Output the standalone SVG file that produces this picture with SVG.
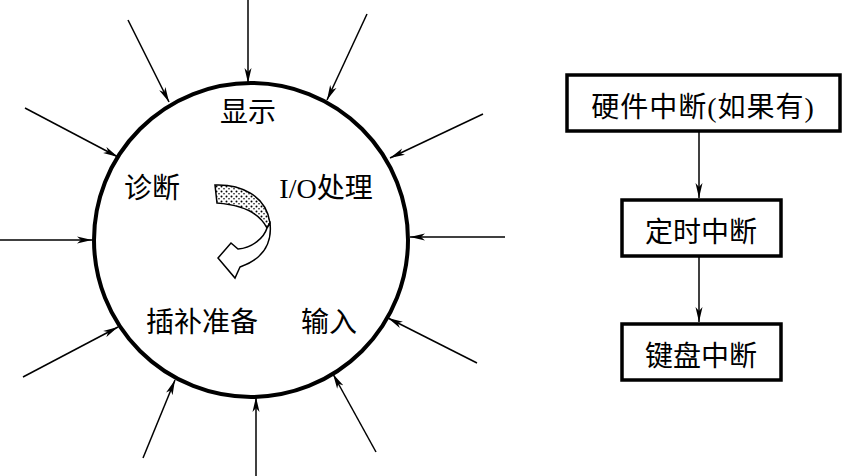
<svg xmlns="http://www.w3.org/2000/svg" width="843" height="476" viewBox="0 0 843 476">
<style>
.ln{stroke:#000;stroke-width:1.5;fill:none;marker-end:url(#ah)}
.bx{fill:#fff;stroke:#000;stroke-width:3.5}
.t{font-family:"Liberation Serif","Noto Sans CJK SC",serif;font-size:28px;fill:#000}
</style>
<defs>
<marker id="ah" markerWidth="16" markerHeight="8" refX="15" refY="4" orient="auto" markerUnits="userSpaceOnUse">
<path d="M0,0.5 L15,4 L0,7.5 L4,4 Z" fill="#000"/>
</marker>
<pattern id="dots" width="5" height="5" patternUnits="userSpaceOnUse">
<rect width="5" height="5" fill="#fff"/>
<circle cx="1.5" cy="1.5" r="1" fill="#000"/>
<circle cx="4" cy="3.8" r="0.8" fill="#000"/>
</pattern>
</defs>
<g id="circle-node">
<circle cx="251" cy="240" r="157" fill="none" stroke="#000" stroke-width="4"/>
<text class="t" x="248" y="122" text-anchor="middle">显示</text>
<text class="t" x="152" y="198" text-anchor="middle">诊断</text>
<text class="t" x="326" y="198" text-anchor="middle">I/O处理</text>
<text class="t" x="202" y="332" text-anchor="middle">插补准备</text>
<text class="t" x="329" y="332" text-anchor="middle">输入</text>
</g>
<g id="cycle-arrow">
<path d="M215,185 C240,184 266,195 270,223 L267,228 C260,214 245,205 217,203 Z" fill="url(#dots)" stroke="#000" stroke-width="1.5"/>
<path d="M270,223 C272,240 266,258 240,267 L235,278 L218,258 L231,243 L238,249 C252,248 264,238 267,228 Z" fill="#fff" stroke="#000" stroke-width="1.5"/>
</g>
<g id="box1"><rect class="bx" x="567" y="75" width="273" height="56"/><text class="t" x="703" y="117" text-anchor="middle" letter-spacing="1">硬件中断(如果有)</text></g>
<g id="box2"><rect class="bx" x="622" y="200" width="159" height="56"/><text class="t" x="701" y="242" text-anchor="middle">定时中断</text></g>
<g id="box3"><rect class="bx" x="622" y="324" width="159" height="56"/><text class="t" x="701" y="366" text-anchor="middle">键盘中断</text></g>
<g id="connectors">
<line class="ln" x1="248" y1="0" x2="248" y2="83"/>
<line class="ln" x1="128" y1="20" x2="169" y2="102"/>
<line class="ln" x1="25" y1="108" x2="118" y2="157"/>
<line class="ln" x1="0" y1="240" x2="92" y2="240"/>
<line class="ln" x1="23" y1="377" x2="118" y2="327"/>
<line class="ln" x1="143" y1="458" x2="175" y2="380"/>
<line class="ln" x1="256" y1="476" x2="256" y2="397"/>
<line class="ln" x1="376" y1="452" x2="333" y2="374"/>
<line class="ln" x1="477" y1="363" x2="388" y2="318"/>
<line class="ln" x1="505" y1="237" x2="410" y2="237"/>
<line class="ln" x1="483" y1="114" x2="390" y2="158"/>
<line class="ln" x1="367" y1="14" x2="327" y2="100"/>
<line class="ln" x1="699" y1="131" x2="699" y2="198"/>
<line class="ln" x1="699" y1="256" x2="699" y2="322"/>
</g>
</svg>
